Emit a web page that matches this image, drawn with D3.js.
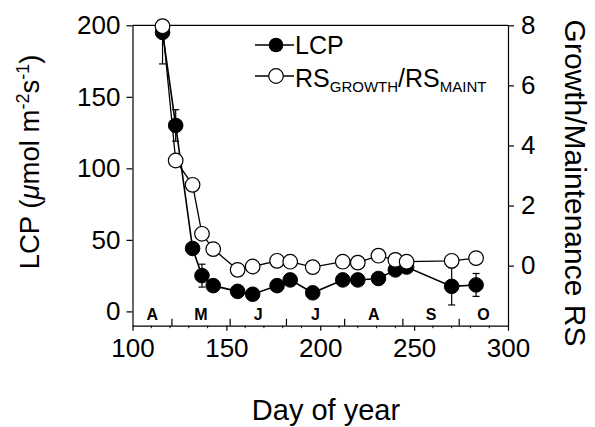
<!DOCTYPE html>
<html>
<head>
<meta charset="utf-8">
<script src="https://cdn.jsdelivr.net/npm/d3@7"></script>
<style>
  html, body { margin: 0; padding: 0; background: #fff; }
  svg { display: block; }
  text { font-family: "Liberation Sans", Arial, Helvetica, sans-serif; fill: #000; }
</style>
</head>
<body>
<svg id="chart" width="595" height="427"></svg>
<script>
// ---- data ----
const days = [116, 123, 132, 137, 143, 156, 164, 177, 184, 196, 212, 220, 231, 240, 246, 270, 283];
const lcp = [195, 130, 44, 25, 18, 14, 12, 18, 22, 13, 22, 22, 23, 29, 31, 17.5, 18.5];
const lcpErr = [22, 11, 0, 8, 0, 0, 0, 0, 0, 0, 0, 0, 0, 0, 0, 13, 8];
const rsRatio = [7.97, 3.5, 2.69, 1.06, 0.55, -0.14, -0.03, 0.16, 0.13, -0.05, 0.13, 0.1, 0.33, 0.19, 0.13, 0.16, 0.25];
const xTicks = [100, 150, 200, 250, 300];
const leftTicks = [0, 50, 100, 150, 200];
const rightTicks = [0, 2, 4, 6, 8];
const monthStarts = [91, 121, 152, 182, 213, 244, 274, 305];
const monthLabels = ["A", "M", "J", "J", "A", "S", "O"];

// ---- layout ----
const svg = d3.select("#chart");
const L = 132.5, R = 508, T = 25.3, B = 325.7;
const x = d3.scaleLinear().domain([100, 300]).range([L, R]);
const yL = d3.scaleLinear().domain([-10, 200]).range([B, T]);
const yR = d3.scaleLinear().domain([-2, 8]).range([B, T]);

// top frame
svg.append("line").attr("x1", L).attr("x2", R).attr("y1", T).attr("y2", T)
  .attr("stroke", "#000").attr("stroke-width", 1.2);

// axes
const axStyle = g => {
  g.selectAll("path.domain").attr("stroke", "#000").attr("stroke-width", 1.2);
  g.selectAll(".tick line").attr("stroke", "#000").attr("stroke-width", 1.2);
  g.selectAll(".tick text").attr("font-family", "Liberation Sans, Arial, sans-serif").attr("fill", "#000");
};

const gx = svg.append("g").attr("transform", `translate(0,${B})`)
  .call(d3.axisBottom(x).tickValues(xTicks).tickSize(5).tickSizeOuter(0).tickPadding(8).tickFormat(d3.format("d")));
gx.call(axStyle);
gx.selectAll(".tick text").attr("font-size", 26);

// minor ticks on x every 10 days (outward)
const minor = d3.range(110, 300, 10).filter(d => d % 50 !== 0);
svg.append("g").selectAll("line").data(minor).join("line")
  .attr("x1", d => x(d)).attr("x2", d => x(d)).attr("y1", B).attr("y2", B + 2.5)
  .attr("stroke", "#000").attr("stroke-width", 1);

// month ticks (inward)
svg.append("g").selectAll("line").data(monthStarts.filter(d => d > 100 && d < 300)).join("line")
  .attr("x1", d => x(d)).attr("x2", d => x(d)).attr("y1", B).attr("y2", B - 7)
  .attr("stroke", "#000").attr("stroke-width", 1.2);

// month labels
svg.append("g").selectAll("text").data(monthLabels).join("text")
  .attr("x", (d, i) => x((Math.max(100, monthStarts[i]) + Math.min(300, monthStarts[i + 1])) / 2))
  .attr("y", 320)
  .attr("text-anchor", "middle")
  .attr("font-size", 16).attr("font-weight", "bold")
  .text(d => d);

const gl = svg.append("g").attr("transform", `translate(${L},0)`)
  .call(d3.axisLeft(yL).tickValues(leftTicks).tickSize(6).tickSizeOuter(0).tickPadding(6));
gl.call(axStyle);
gl.selectAll(".tick text").attr("font-size", 26);

const gr = svg.append("g").attr("transform", `translate(${R},0)`)
  .call(d3.axisRight(yR).tickValues(rightTicks).tickSize(6).tickSizeOuter(0).tickPadding(7));
gr.call(axStyle);
gr.selectAll(".tick text").attr("font-size", 26);

// ---- series ----
const idx = d3.range(days.length);

// LCP error bars (clipped at the plot top)
const eb = svg.append("g");
idx.filter(i => lcpErr[i] > 0).forEach(i => {
  const cx = x(days[i]);
  const y1 = yL(lcp[i] - lcpErr[i]);
  const hiVal = lcp[i] + lcpErr[i];
  const y2 = yL(Math.min(200, hiVal));
  eb.append("line").attr("x1", cx).attr("x2", cx).attr("y1", y1).attr("y2", y2)
    .attr("stroke", "#000").attr("stroke-width", 1.2);
  const caps = hiVal <= 200 ? [y1, y2] : [y1];
  caps.forEach(yy => eb.append("line").attr("x1", cx - 3.5).attr("x2", cx + 3.5)
    .attr("y1", yy).attr("y2", yy).attr("stroke", "#000").attr("stroke-width", 1.2));
});

const lineL = d3.line().x(i => x(days[i])).y(i => yL(lcp[i]));
svg.append("path").attr("d", lineL(idx)).attr("fill", "none").attr("stroke", "#000").attr("stroke-width", 1.6);
svg.append("g").selectAll("circle").data(idx).join("circle")
  .attr("cx", i => x(days[i])).attr("cy", i => yL(lcp[i])).attr("r", 7.3)
  .attr("fill", "#000").attr("stroke", "#000").attr("stroke-width", 1);

const lineR = d3.line().x(i => x(days[i])).y(i => yR(rsRatio[i]));
svg.append("path").attr("d", lineR(idx)).attr("fill", "none").attr("stroke", "#000").attr("stroke-width", 1.3);
svg.append("g").selectAll("circle").data(idx).join("circle")
  .attr("cx", i => x(days[i])).attr("cy", i => yR(rsRatio[i])).attr("r", 7.3)
  .attr("fill", "#fff").attr("stroke", "#000").attr("stroke-width", 1.2);

// ---- legend ----
const lg = svg.append("g");
lg.append("line").attr("x1", 255).attr("x2", 294).attr("y1", 45).attr("y2", 45).attr("stroke", "#000").attr("stroke-width", 1.6);
lg.append("circle").attr("cx", 276).attr("cy", 45).attr("r", 7.3).attr("fill", "#000");
lg.append("text").attr("x", 295).attr("y", 54).attr("font-size", 25).text("LCP");
lg.append("line").attr("x1", 255).attr("x2", 294).attr("y1", 76).attr("y2", 76).attr("stroke", "#000").attr("stroke-width", 1.3);
lg.append("circle").attr("cx", 276).attr("cy", 76).attr("r", 7.3).attr("fill", "#fff").attr("stroke", "#000").attr("stroke-width", 1.2);
const t2 = lg.append("text").attr("x", 295).attr("y", 87).attr("font-size", 25);
t2.append("tspan").text("RS");
t2.append("tspan").attr("font-size", 15).attr("dy", 5).text("GROWTH");
t2.append("tspan").attr("dy", -5).text("/RS");
t2.append("tspan").attr("font-size", 15).attr("dy", 5).text("MAINT");

// ---- axis titles ----
svg.append("text").attr("x", 326).attr("y", 420).attr("text-anchor", "middle").attr("font-size", 29).text("Day of year");

const lt = svg.append("text").attr("transform", "translate(39,162) rotate(-90)")
  .attr("text-anchor", "middle").attr("font-size", 27.5);
lt.append("tspan").text("LCP (");
lt.append("tspan").attr("font-style", "italic").text("\u03bc");
lt.append("tspan").text("mol m");
lt.append("tspan").attr("font-size", 18).attr("dy", -10).text("-2");
lt.append("tspan").attr("dy", 10).text("s");
lt.append("tspan").attr("font-size", 18).attr("dy", -10).text("-1");
lt.append("tspan").attr("dy", 10).text(")");

svg.append("text").attr("transform", "translate(565,183) rotate(90)")
  .attr("text-anchor", "middle").attr("font-size", 30).text("Growth/Maintenance RS");
</script>
</body>
</html>
